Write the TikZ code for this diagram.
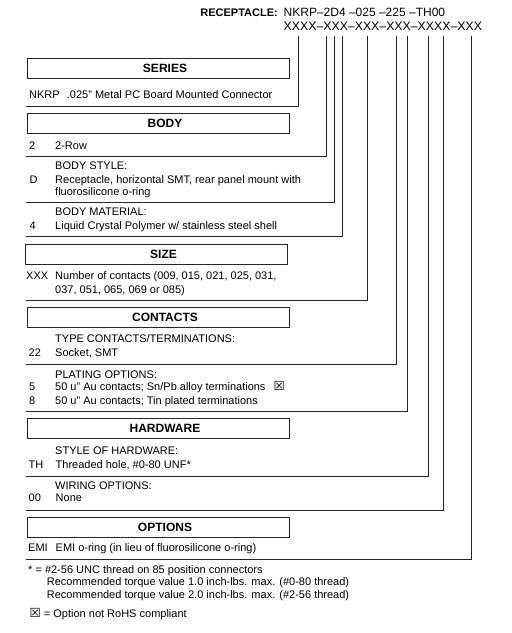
\documentclass[tikz,border=0pt]{standalone}
\usepackage{fontspec}
\setmainfont{Liberation Sans}
\newfontfamily\symfont{DejaVu Sans}
\usetikzlibrary{positioning}

\newcommand{\nrohs}{{\symfont\fontsize{12.5}{12}\selectfont ☒}}

\begin{document}
\begin{tikzpicture}[
    x=1pt,
    y=-1pt,
    txt/.style={anchor=base west, inner sep=0pt, font=\fontsize{11}{12.7}\selectfont},
    pnum/.style={anchor=base west, inner sep=0pt, font=\fontsize{12}{14}\selectfont},
    hbox/.style={draw=black!85, line width=0.9pt, minimum width=262pt, minimum height=20pt, inner sep=0pt,
                 font=\fontsize{12}{14}\selectfont\bfseries, execute at begin node={\hspace*{14pt}}},
    lead/.style={draw=black!85, line width=0.8pt}
  ]
    \useasboundingbox (0,0) rectangle (512,633);

    % -- part number --
    \node[pnum, anchor=base east, font=\fontsize{11}{13}\selectfont\bfseries] (rcpt) at (278,16.5) {RECEPTACLE:};
    \node[pnum] (pn)   at (283.5,16.5) {NKRP–2D4 –025 –225 –TH00};
    \node[pnum, font=\fontsize{12.3}{14}\selectfont] (mask) at (283.5,30) {XXXX–XXX–XXX–XXX–XXXX–XXX};

    % -- leader lines from the mask down to each section --
    \foreach \i/\x/\y in {1/298/106, 2/326.7/156.5, 3/334.2/202.7, 4/342.3/236.7, 5/367.7/300,
                          6/396/364.3, 7/406.9/411.7, 8/428.4/476, 9/443/510, 10/471.7/559.3} {
      \coordinate (top\i) at (\x,36);
      \coordinate (end\i) at (25.5,\y);
      \draw[lead] (top\i) |- (end\i);
    }

    % -- SERIES --
    \node[hbox] (series) at (158,68) {SERIES};
    \node[txt] (sercode) at (29,98) {NKRP};
    \node[txt] (sertext) at (66.7,98) {.025" Metal PC Board Mounted Connector};

    % -- BODY --
    \node[hbox] (body) at (158,123.3) {BODY};
    \node[txt] (rowcode)   at (29,149) {2};
    \node[txt] (rowtext)   at (55,149) {2-Row};
    \node[txt] (bstyle)    at (55,169) {BODY STYLE:};
    \node[txt] (bstylecode) at (29.5,183) {D};
    \node[txt] (bstyle1)   at (55,183) {Receptacle, horizontal SMT, rear panel mount with};
    \node[txt] (bstyle2)   at (55,195.7) {fluorosilicone o-ring};
    \node[txt] (bmat)      at (55,215.7) {BODY MATERIAL:};
    \node[txt] (bmatcode)  at (29.5,229) {4};
    \node[txt] (bmat1)     at (55,229) {Liquid Crystal Polymer w/ stainless steel shell};

    % -- SIZE --
    \node[hbox] (size) at (156.5,254.2) {SIZE};
    \node[txt] (sizecode) at (26,279.7) {XXX};
    \node[txt] (size1)    at (55,279.7) {Number of contacts (009, 015, 021, 025, 031,};
    \node[txt] (size2)    at (55,293)   {037, 051, 065, 069 or 085)};

    % -- CONTACTS --
    \node[hbox] (contacts) at (158,317.5) {CONTACTS};
    \node[txt] (ctype)     at (55,342.3) {TYPE CONTACTS/TERMINATIONS:};
    \node[txt] (ctypecode) at (28.5,356.3) {22};
    \node[txt] (ctype1)    at (55,356.3) {Socket, SMT};
    \node[txt] (plat)      at (55,378) {PLATING OPTIONS:};
    \node[txt] (platcode5) at (29,390.7) {5};
    \node[txt] (plat5)     at (55,390.7) {50 u" Au contacts; Sn/Pb alloy terminations\hspace{8pt}\nrohs};
    \node[txt] (platcode8) at (29,404) {8};
    \node[txt] (plat8)     at (55,404) {50 u" Au contacts; Tin plated terminations};

    % -- HARDWARE --
    \node[hbox] (hardware) at (158,428.7) {HARDWARE};
    \node[txt] (hstyle)     at (55,454) {STYLE OF HARDWARE:};
    \node[txt] (hstylecode) at (28.5,468) {TH};
    \node[txt] (hstyle1)    at (55.5,468) {Threaded hole, \#0-80 UNF*};
    \node[txt] (wiring)     at (55,489) {WIRING OPTIONS:};
    \node[txt] (wiringcode) at (28.5,501.7) {00};
    \node[txt] (wiring1)    at (55.5,501.7) {None};

    % -- OPTIONS --
    \node[hbox] (options) at (158,527) {OPTIONS};
    \node[txt] (optcode) at (28,551.3) {EMI};
    \node[txt] (opt1)    at (55.5,551.3) {EMI o-ring (in lieu of fluorosilicone o-ring)};

    % -- notes --
    \node[txt] (note1) at (28,573.3)  {* = \#2-56 UNC thread on 85 position connectors};
    \node[txt] (note2) at (46.7,585.7) {Recommended torque value 1.0 inch-lbs. max. (\#0-80 thread)};
    \node[txt] (note3) at (46.7,598)   {Recommended torque value 2.0 inch-lbs. max. (\#2-56 thread)};
    \node[txt] (note4) at (29.5,617.3) {\nrohs{} = Option not RoHS compliant};
  \end{tikzpicture}
\end{document}
